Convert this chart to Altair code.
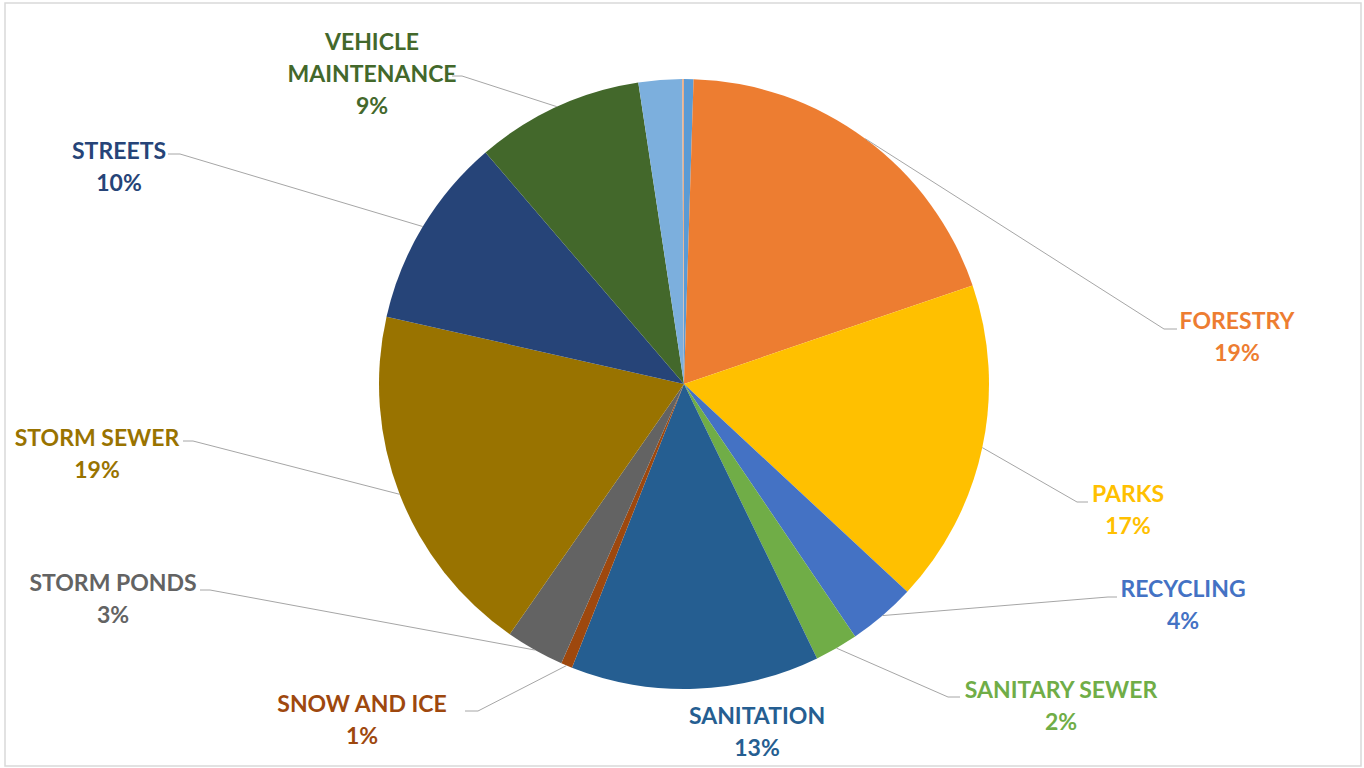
import math
import altair as alt
import pandas as pd

# ---- data ----
names = ["(UNLABELED A)", "FORESTRY", "PARKS", "RECYCLING", "SANITARY SEWER", "SANITATION",
         "SNOW AND ICE", "STORM PONDS", "STORM SEWER", "STREETS", "VEHICLE MAINTENANCE",
         "(UNLABELED B)", "(UNLABELED C)"]
values = [0.5, 19.3, 17.2, 3.6, 2.3, 13.2, 0.6, 3.1, 18.9, 10.2, 8.9, 2.3, 0.1]
colors = ["#5B9BD5", "#ED7D31", "#FFC000", "#4472C4", "#70AD47", "#255E91",
          "#9E480E", "#636363", "#997300", "#264478", "#43682B", "#7CAFDD", "#E9B08C"]

# label lines (name split) for labelled slices
label_lines = {
    "FORESTRY": ["FORESTRY"],
    "PARKS": ["PARKS"],
    "RECYCLING": ["RECYCLING"],
    "SANITARY SEWER": ["SANITARY SEWER"],
    "SANITATION": ["SANITATION"],
    "SNOW AND ICE": ["SNOW AND ICE"],
    "STORM PONDS": ["STORM PONDS"],
    "STORM SEWER": ["STORM SEWER"],
    "STREETS": ["STREETS"],
    "VEHICLE MAINTENANCE": ["VEHICLE", "MAINTENANCE"],
}
# manual label placement (centre x, first-line centre y) in layout pixels
label_pos = {
    "FORESTRY": (1237, 322),
    "PARKS": (1128, 495),
    "RECYCLING": (1183, 590),
    "SANITARY SEWER": (1061, 691),
    "SANITATION": (757, 717),
    "SNOW AND ICE": (362, 705),
    "STORM PONDS": (113, 584),
    "STORM SEWER": (97, 439),
    "STREETS": (119, 152),
    "VEHICLE MAINTENANCE": (372, 43),
}
# leader line elbow and end points near the labels
leader_pts = {
    "FORESTRY": [(1164, 329), (1177, 329)],
    "PARKS": [(1077, 502), (1088, 502)],
    "RECYCLING": [(1108, 597), (1117, 597)],
    "SANITARY SEWER": [(948, 697), (960, 697)],
    "SNOW AND ICE": [(478, 711), (465, 711)],
    "STORM PONDS": [(210, 590), (200, 590)],
    "STORM SEWER": [(193, 441), (183, 441)],
    "STREETS": [(180, 154), (168, 154)],
    "VEHICLE MAINTENANCE": [(462, 76), (452, 76)],
}

W, H = 1364, 768
CX, CY, R = 684, 384, 305

total = sum(values)
pie_df = pd.DataFrame({"name": names, "value": values, "order": list(range(len(names)))})

# compute slice mid angles for leader line anchors
mid = {}
acc = 0.0
for n, v in zip(names, values):
    a0 = acc / total * 2 * math.pi
    acc += v
    a1 = acc / total * 2 * math.pi
    mid[n] = (a0 + a1) / 2

lab_rows = []
for n, v in zip(names, values):
    if n in label_lines:
        pct = f"{round(v / total * 100)}%"
        x, y = label_pos[n]
        lab_rows.append({"name": n, "text": label_lines[n] + [pct], "x": x, "y": y})

lead_rows = []
for n, pts in leader_pts.items():
    a = mid[n]
    sx = CX + R * math.sin(a)
    sy = CY - R * math.cos(a)
    seq = [(sx, sy)] + pts
    for i, (x, y) in enumerate(seq):
        lead_rows.append({"name": n, "x": x, "y": y, "i": i})
lead_df = pd.DataFrame(lead_rows)

xs = alt.Scale(domain=[0, W], range=[0, W])
ys = alt.Scale(domain=[0, H], range=[0, H])
cscale = alt.Scale(domain=names, range=colors)

border = alt.Chart(pd.DataFrame({"a": [0]})).mark_rect(
    fill="white", stroke="#D9D9D9", strokeWidth=1.5
).encode(x=alt.value(5), x2=alt.value(1361), y=alt.value(3), y2=alt.value(766))

pie = alt.Chart(pie_df).mark_arc(outerRadius=R).encode(
    theta=alt.Theta("value:Q", stack=True),
    order=alt.Order("order:Q"),
    color=alt.Color("name:N", scale=cscale, legend=None),
    x=alt.value(CX),
    y=alt.value(CY),
)

leaders = alt.Chart(lead_df).mark_line(color="#A6A6A6", strokeWidth=1).encode(
    x=alt.X("x:Q", scale=xs, axis=None),
    y=alt.Y("y:Q", scale=ys, axis=None),
    detail="name:N",
    order="i:Q",
)

labels = alt.Chart(alt.Data(values=lab_rows)).mark_text(
    font="Lato", fontWeight="bold", fontSize=23, lineHeight=32,
    align="center", baseline="middle"
).encode(
    x=alt.X("x:Q", scale=xs, axis=None),
    y=alt.Y("y:Q", scale=ys, axis=None),
    text=alt.Text("text:N"),
    color=alt.Color("name:N", scale=cscale, legend=None),
)

chart = alt.layer(border, pie, leaders, labels).properties(
    width=W, height=H, padding=0, autosize=alt.AutoSizeParams(type="none"),
    background="white"
).configure_view(stroke=None)

chart.save("out.html", embed_options={"renderer": "svg", "actions": False})
